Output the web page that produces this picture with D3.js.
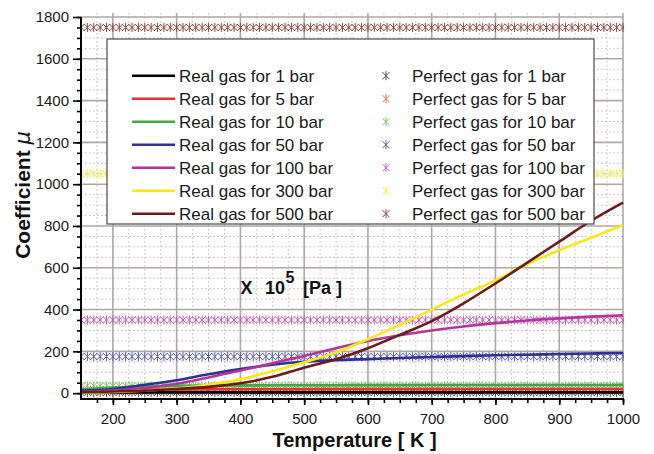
<!DOCTYPE html>
<html>
<head>
<meta charset="utf-8">
<script src="https://cdn.jsdelivr.net/npm/d3@7"></script>
<style>
  body { margin: 0; background: #fff; }
  svg { display: block; }
  text { font-family: "Liberation Sans", Arial, Helvetica, sans-serif; }
</style>
</head>
<body>
<svg id="chart" width="654" height="454"></svg>
<script>
// Temperatures (K) at which the real-gas coefficient was evaluated
const temperature = [150, 200, 250, 300, 350, 400, 450, 500, 550, 600, 650, 700, 750, 800, 850, 900, 950, 1000];

// Real-gas coefficient mu (x 10^5 Pa) for each pressure
const real1bar   = [3.0, 3.3, 3.5, 3.6, 3.7, 3.7, 3.8, 3.8, 3.8, 3.8, 3.9, 3.9, 3.9, 3.9, 3.9, 3.9, 3.9, 3.9];
const real5bar   = [12, 15, 17, 18, 18.5, 18.8, 19, 19, 19.2, 19.3, 19.4, 19.4, 19.5, 19.5, 19.5, 19.6, 19.6, 19.6];
const real10bar  = [18, 27, 32, 35, 36, 37, 37.5, 38, 38, 38.5, 38.5, 39, 39, 39, 39, 39.2, 39.3, 39.4];
const real50bar  = [12, 20, 40, 62, 90, 115, 136, 150, 158, 163, 168, 173, 177, 181, 184, 187, 190, 192];
const real100bar = [5, 12, 25, 45, 75, 108, 143, 178, 215, 250, 277, 300, 319, 335, 348, 358, 366, 372];
const real300bar = [3, 6, 12, 22, 40, 66, 105, 148, 195, 258, 327, 400, 472, 540, 618, 684, 744, 805];
const real500bar = [5, 8, 12, 20, 30, 47, 78, 122, 162, 215, 279, 345, 430, 525, 625, 725, 825, 912];

// Perfect-gas coefficient (constant in temperature) for each pressure
const perfectGas = [3.5, 17.5, 35, 175, 350, 1050, 1750];

// Temperatures at which the perfect-gas symbols are plotted
const markerTemperature = [150, 160, 170, 180, 190, 200, 210, 220, 230, 240, 250, 260, 270, 280, 290,
  300, 310, 320, 330, 340, 350, 360, 370, 380, 390, 400, 410, 420, 430, 440, 450, 460, 470, 480, 490,
  500, 510, 520, 530, 540, 550, 560, 570, 580, 590, 600, 610, 620, 630, 640, 650, 660, 670, 680, 690,
  700, 710, 720, 730, 740, 750, 760, 770, 780, 790, 800, 810, 820, 830, 840, 850, 860, 870, 880, 890,
  900, 910, 920, 930, 940, 950, 960, 970, 980, 990, 1000];

const pressures = ["1 bar", "5 bar", "10 bar", "50 bar", "100 bar", "300 bar", "500 bar"];
const realSeries = [real1bar, real5bar, real10bar, real50bar, real100bar, real300bar, real500bar];

const xMajorTicks = [200, 300, 400, 500, 600, 700, 800, 900, 1000];
const yMajorTicks = [0, 200, 400, 600, 800, 1000, 1200, 1400, 1600, 1800];

const lineColors   = ["#000000", "#e8322b", "#3da944", "#2f3192", "#b2379c", "#f7e917", "#6a1b1c"];
const markerColors = ["#4d4d4d", "#f06a5c", "#7cc36d", "#5a5ea8", "#c85db0", "#f5ec4c", "#8e4a44"];

const svg = d3.select("#chart");
const plot = { left: 81, right: 623, top: 17, bottom: 399 };

const x = d3.scaleLinear().domain([150, 1000]).range([plot.left, plot.right]);
const y = d3.scaleLinear().domain([-28, 1800]).range([plot.bottom, plot.top]);

svg.append("defs").append("clipPath").attr("id", "plotClip")
  .append("rect")
  .attr("x", plot.left).attr("y", plot.top - 6)
  .attr("width", plot.right - plot.left + 1).attr("height", plot.bottom - plot.top + 6);

// ---- grid ----
const grid = svg.append("g");
const xMinor = d3.range(175, 1000, 25).filter(t => t % 100 !== 0);
const yMinor = d3.range(50, 1800, 50).filter(v => v % 200 !== 0);

grid.selectAll(".vminor").data(xMinor).join("line")
  .attr("x1", d => x(d)).attr("x2", d => x(d))
  .attr("y1", plot.top - 4).attr("y2", plot.bottom)
  .attr("stroke", "#c9b7b7").attr("stroke-width", 1).attr("stroke-dasharray", "1.5,2.5");
grid.selectAll(".hminor").data(yMinor).join("line")
  .attr("x1", plot.left).attr("x2", plot.right)
  .attr("y1", d => y(d)).attr("y2", d => y(d))
  .attr("stroke", "#c9b7b7").attr("stroke-width", 1).attr("stroke-dasharray", "1.5,2.5");
grid.selectAll(".vmajor").data(xMajorTicks).join("line")
  .attr("x1", d => x(d)).attr("x2", d => x(d))
  .attr("y1", plot.top - 4).attr("y2", plot.bottom)
  .attr("stroke", "#aea7a5").attr("stroke-width", 1.6);
grid.selectAll(".hmajor").data(yMajorTicks).join("line")
  .attr("x1", plot.left).attr("x2", plot.right)
  .attr("y1", d => y(d)).attr("y2", d => y(d))
  .attr("stroke", "#aea7a5").attr("stroke-width", 1.6);

// ---- perfect-gas symbol rows ----
const starPath = "M0,-4.5V4.5M-3.6,-3.6L3.6,3.6M-3.6,3.6L3.6,-3.6";
const stars = svg.append("g").attr("clip-path", "url(#plotClip)");
perfectGas.forEach((value, i) => {
  stars.append("g")
    .selectAll("path")
    .data(markerTemperature)
    .join("path")
    .attr("d", starPath)
    .attr("transform", t => `translate(${x(t)},${y(value)})`)
    .attr("fill", "none")
    .attr("stroke", markerColors[i])
    .attr("stroke-width", 1);
});

// ---- real-gas curves ----
const line = d3.line()
  .x((d, i) => x(temperature[i]))
  .y(d => y(d))
  .curve(d3.curveMonotoneX);
const curves = svg.append("g").attr("clip-path", "url(#plotClip)");
realSeries.forEach((series, i) => {
  curves.append("path")
    .attr("d", line(series))
    .attr("fill", "none")
    .attr("stroke", lineColors[i])
    .attr("stroke-width", 2.6)
    .attr("stroke-linejoin", "round");
});

// ---- axes ----
const xAxisMinor = d3.axisBottom(x).tickValues(d3.range(175, 1001, 25)).tickSize(4).tickFormat("");
const xAxis = d3.axisBottom(x).tickValues(xMajorTicks).tickSize(6).tickPadding(8).tickFormat(d3.format("d"));
const yAxisMinor = d3.axisLeft(y).tickValues(d3.range(0, 1801, 50)).tickSize(4).tickFormat("");
const yAxis = d3.axisLeft(y).tickValues(yMajorTicks).tickSize(8).tickPadding(4).tickFormat(d3.format("d"));

function styleAxis(g) {
  g.select(".domain").remove();
  g.selectAll("line").attr("stroke", "#000").attr("stroke-width", 1.6);
  g.selectAll("text").attr("fill", "#1a1a1a").style("font-size", "15px")
    .style("font-family", "'Liberation Sans', Arial, sans-serif");
}

svg.append("g").attr("transform", `translate(0,${plot.bottom})`).call(xAxisMinor).call(styleAxis);
svg.append("g").attr("transform", `translate(0,${plot.bottom})`).call(xAxis).call(styleAxis);
svg.append("g").attr("transform", `translate(${plot.left},0)`).call(yAxisMinor).call(styleAxis);
svg.append("g").attr("transform", `translate(${plot.left},0)`).call(yAxis).call(styleAxis);

// axis lines
svg.append("line")
  .attr("x1", plot.left - 1).attr("x2", plot.right + 1)
  .attr("y1", plot.bottom).attr("y2", plot.bottom)
  .attr("stroke", "#000").attr("stroke-width", 2);
svg.append("line")
  .attr("x1", plot.left).attr("x2", plot.left)
  .attr("y1", plot.top).attr("y2", plot.bottom + 1)
  .attr("stroke", "#000").attr("stroke-width", 2);

// axis titles
svg.append("text")
  .attr("x", 354.5).attr("y", 447)
  .attr("text-anchor", "middle")
  .style("font-size", "20px").style("font-weight", "bold").attr("fill", "#111")
  .text("Temperature [ K ]");

const yTitle = svg.append("text")
  .attr("transform", "translate(30,195) rotate(-90)")
  .attr("text-anchor", "middle")
  .style("font-size", "21px").attr("fill", "#111");
yTitle.append("tspan").style("font-weight", "bold").text("Coefficient ");
yTitle.append("tspan").style("font-style", "italic").style("font-family", "'DejaVu Sans', sans-serif").text("μ");

// unit annotation
const unit = svg.append("g").attr("fill", "#111").style("font-weight", "bold");
unit.append("text").attr("x", 240.5).attr("y", 293.5).style("font-size", "18px").text("X");
unit.append("text").attr("x", 265).attr("y", 293.5).style("font-size", "18px").text("10");
unit.append("text").attr("x", 285.5).attr("y", 283).style("font-size", "16px").text("5");
unit.append("text").attr("x", 303).attr("y", 293.5).style("font-size", "18px").text("[Pa ]");

// ---- legend ----
const legend = svg.append("g");
legend.append("rect")
  .attr("x", 107).attr("y", 39).attr("width", 487).attr("height", 185)
  .attr("fill", "#fff").attr("stroke", "#4a4a4a").attr("stroke-width", 1.2);

pressures.forEach((p, i) => {
  const cy = 75.7 + i * 23;
  legend.append("line")
    .attr("x1", 132).attr("x2", 175).attr("y1", cy).attr("y2", cy)
    .attr("stroke", lineColors[i]).attr("stroke-width", 2.6);
  legend.append("text")
    .attr("x", 179).attr("y", cy + 6.3)
    .style("font-size", "17px").attr("fill", "#1a1a1a")
    .text(`Real gas for ${p}`);
  legend.append("path")
    .attr("d", starPath)
    .attr("transform", `translate(386,${cy})`)
    .attr("fill", "none").attr("stroke", markerColors[i]).attr("stroke-width", 1);
  legend.append("text")
    .attr("x", 412).attr("y", cy + 6.3)
    .style("font-size", "17px").attr("fill", "#1a1a1a")
    .text(`Perfect gas for ${p}`);
});
</script>
</body>
</html>
